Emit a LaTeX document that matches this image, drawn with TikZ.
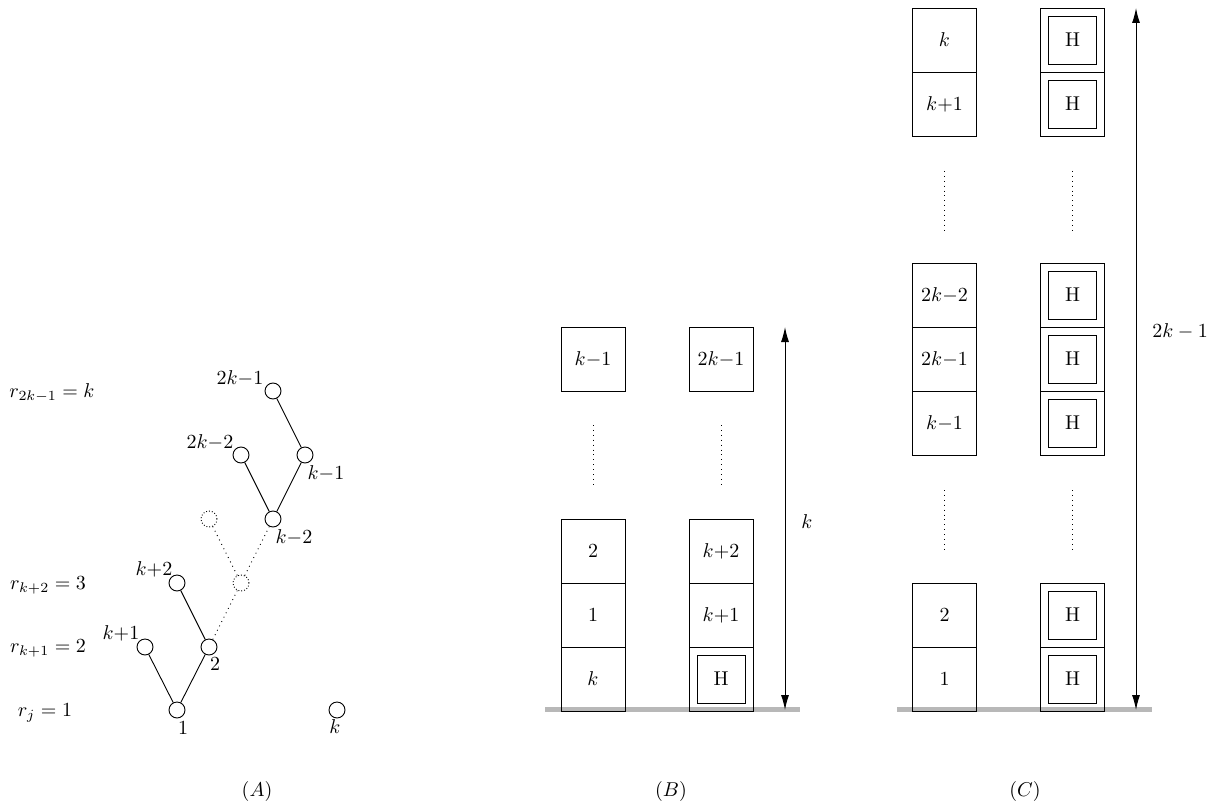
\documentclass[tikz,border=0pt]{standalone}
\usetikzlibrary{arrows.meta}
\begin{document}
\begin{tikzpicture}[x=0.5pt,y=-0.5pt,
  vtx/.style={circle,draw,line width=0.45pt,minimum size=8pt,inner sep=0pt},
  ghost/.style={vtx,densely dotted},
  edge/.style={line width=0.45pt},
  trail/.style={dotted,line width=0.45pt},
  slot/.style={draw,line width=0.45pt,minimum size=32pt,inner sep=0pt},
  hcell/.style={draw,line width=0.45pt,minimum size=24pt,inner sep=0pt},
  lbl/.style={inner sep=0pt},
  ground/.style={fill=black!28},
  dim/.style={{Latex[length=7.5pt,width=4pt]}-{Latex[length=7.5pt,width=4pt]},line width=0.5pt}
]
\useasboundingbox (0,0) rectangle (1208,802);

% ---------------- (A) ----------------
\node[vtx] (a1) at (177,710) {};
\node[vtx] (a2) at (209,647) {};
\node[vtx] (ak1) at (145,647) {};
\node[vtx] (ak2) at (177,583) {};
\node[ghost] (g1) at (241,583) {};
\node[ghost] (g2) at (209,519) {};
\node[vtx] (akm2) at (273,519) {};
\node[vtx] (a2km2) at (241,455) {};
\node[vtx] (akm1) at (305,455) {};
\node[vtx] (a2km1) at (273,391) {};
\node[vtx] (ak) at (337,710) {};

\draw[edge] (a1) -- (ak1);
\draw[edge] (a1) -- (a2);
\draw[edge] (a2) -- (ak2);
\draw[trail] (a2) -- (g1);
\draw[trail] (g1) -- (g2);
\draw[trail] (g1) -- (akm2);
\draw[edge] (akm2) -- (a2km2);
\draw[edge] (akm2) -- (akm1);
\draw[edge] (akm1) -- (a2km1);

\node[lbl] (l2km1) at (240,378) {$2k{-}1$};
\node[lbl] (l2km2) at (210,442) {$2k{-}2$};
\node[lbl] (lkm1) at (326,473) {$k{-}1$};
\node[lbl] (lkm2) at (294,537) {$k{-}2$};
\node[lbl] (lkp2) at (154,569) {$k{+}2$};
\node[lbl] (lkp1) at (121,633) {$k{+}1$};
\node[lbl] (l2) at (215,664) {$2$};
\node[lbl] (l1) at (183,728) {$1$};
\node[lbl] (lk) at (335,727) {$k$};

\node[lbl] (r1) at (52,393) {$r_{2k-1}=k$};
\node[lbl] (r2) at (48,585) {$r_{k+2}=3$};
\node[lbl] (r3) at (48,648) {$r_{k+1}=2$};
\node[lbl] (r4) at (45,713) {$r_j=1$};

\node[lbl] (capA) at (257,791) {$(A)$};

% ---------------- (B) ----------------
\fill[ground] (545,707) rectangle (800,712);

\node[slot] (b1) at (593,359) {$k{-}1$};
\node[slot] (b2) at (593,551) {$2$};
\node[slot] (b3) at (593,615) {$1$};
\node[slot] (b4) at (593,679) {$k$};

\node[slot] (b5) at (721,359) {$2k{-}1$};
\node[slot] (b6) at (721,551) {$k{+}2$};
\node[slot] (b7) at (721,615) {$k{+}1$};
\node[slot] (b8) at (721,679) {};
\node[hcell] (b8h) at (b8) {H};

\coordinate (bd1) at (593,425); \coordinate (bd2) at (593,485);
\coordinate (bd3) at (721,425); \coordinate (bd4) at (721,485);
\draw[trail] (bd1) -- (bd2);
\draw[trail] (bd3) -- (bd4);

\coordinate (bt) at (785,327);
\coordinate (bb) at (785,710);
\draw[dim] (bb) -- (bt);
\node[lbl] (bk) at (807,522) {$k$};

\node[lbl] (capB) at (671,791) {$(B)$};

% ---------------- (C) ----------------
\fill[ground] (897,707) rectangle (1152,712);

\node[slot] (c1) at (944.5,40) {$k$};
\node[slot] (c2) at (944.5,104) {$k{+}1$};
\node[slot] (c3) at (944.5,295) {$2k{-}2$};
\node[slot] (c4) at (944.5,359) {$2k{-}1$};
\node[slot] (c5) at (944.5,423) {$k{-}1$};
\node[slot] (c6) at (944.5,615) {$2$};
\node[slot] (c7) at (944.5,679) {$1$};

\foreach \n/\y in {1/40,2/104,3/295,4/359,5/423,6/615,7/679}{
  \node[slot] (h\n) at (1072.5,\y) {};
  \node[hcell] (h\n i) at (h\n) {H};
}

\coordinate (cd1) at (944.5,171); \coordinate (cd2) at (944.5,230);
\coordinate (cd3) at (1072.5,171); \coordinate (cd4) at (1072.5,230);
\coordinate (cd5) at (944.5,490); \coordinate (cd6) at (944.5,549);
\coordinate (cd7) at (1072.5,490); \coordinate (cd8) at (1072.5,549);
\draw[trail] (cd1) -- (cd2);
\draw[trail] (cd3) -- (cd4);
\draw[trail] (cd5) -- (cd6);
\draw[trail] (cd7) -- (cd8);

\coordinate (ct) at (1136,8);
\coordinate (cb) at (1136,710);
\draw[dim] (cb) -- (ct);
\node[lbl] (ck) at (1180,331) {$2k-1$};

\node[lbl] (capC) at (1025,791) {$(C)$};
\end{tikzpicture}
\end{document}
